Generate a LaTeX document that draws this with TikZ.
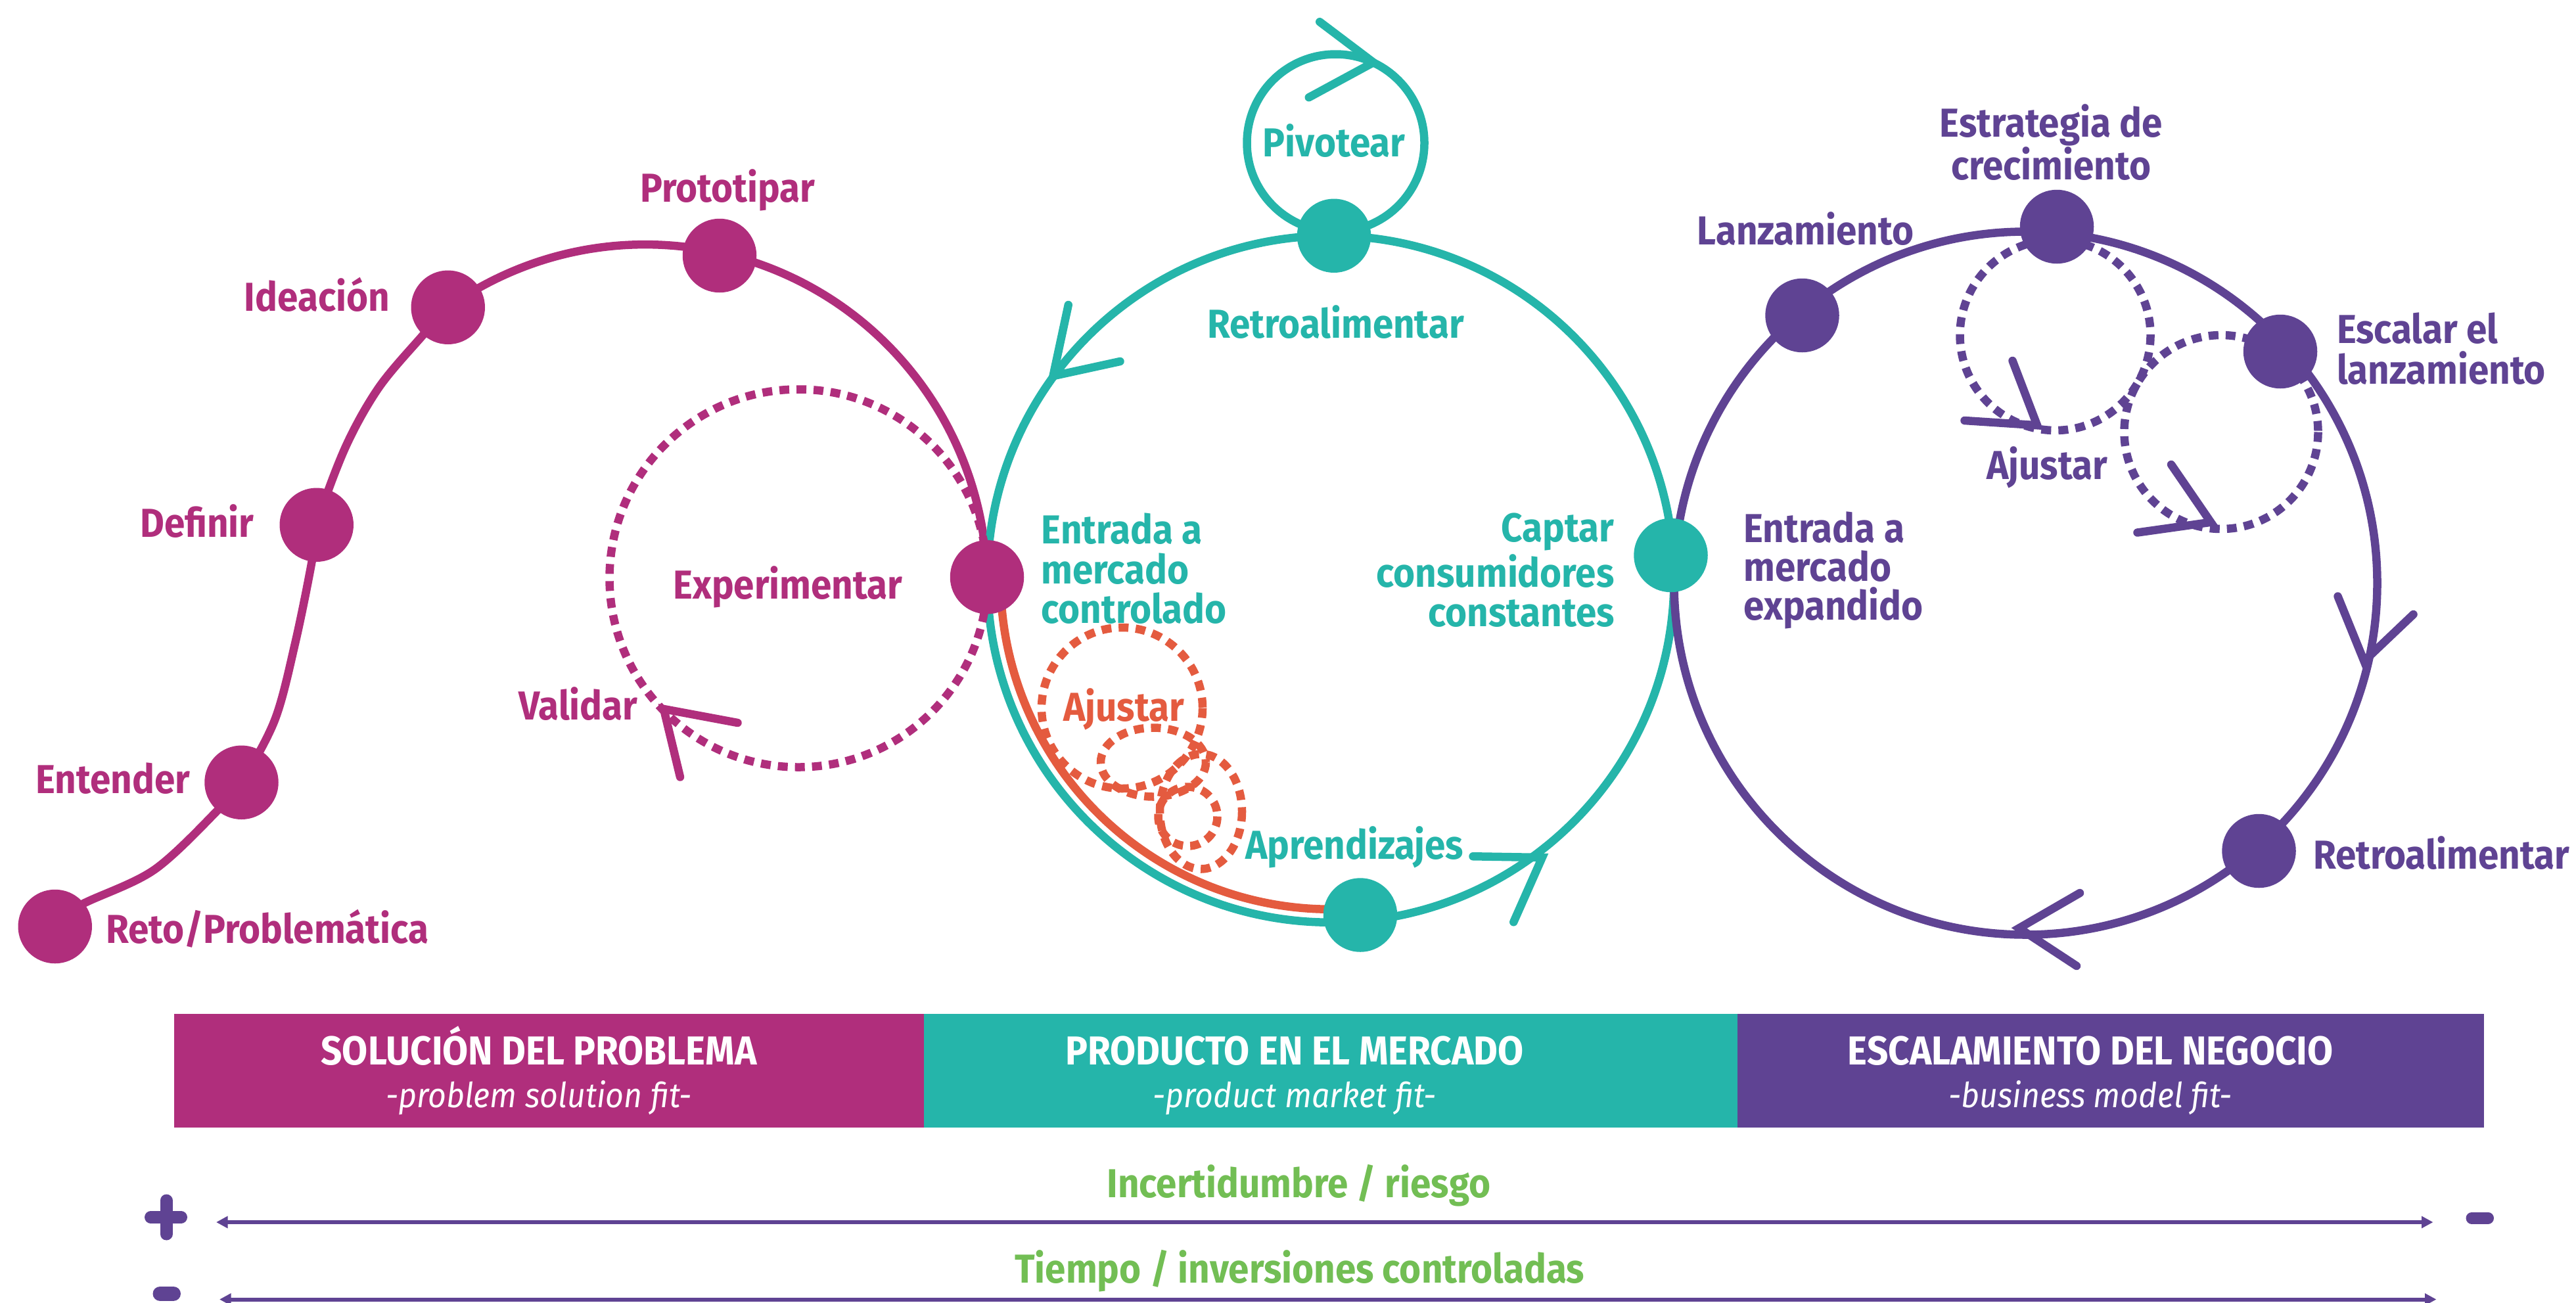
\documentclass[tikz,border=0pt]{standalone}
\usepackage{fontspec}
\newfontfamily\lblfont{Fira Sans}[FakeStretch=0.92]
\usetikzlibrary{arrows.meta,backgrounds}

\definecolor{cmag}{RGB}{176,46,124}
\definecolor{cteal}{RGB}{37,181,170}
\definecolor{cpurp}{RGB}{95,67,147}
\definecolor{corng}{RGB}{228,91,63}
\definecolor{cgreen}{RGB}{114,190,84}

\tikzset{
  dotm/.style={circle,fill=cmag,inner sep=0pt,minimum size=22.5pt},
  dott/.style={dotm,fill=cteal},
  dotp/.style={dotm,fill=cpurp},
  lbl/.style={font=\lblfont\bfseries\fontsize{12.3}{12.4}\selectfont,inner sep=0pt},
  lblm/.style={lbl,text=cmag},
  lblt/.style={lbl,text=cteal},
  lblp/.style={lbl,text=cpurp},
  ring/.style={line width=2.5pt},
  dashring/.style={line width=2.5pt,dash pattern=on 3pt off 2.2pt},
  chev/.style={line width=2.5pt,line cap=round,line join=miter},
  bartitle/.style={font=\lblfont\bfseries\fontsize{12.3}{14}\selectfont,text=white,inner sep=0pt},
  barsub/.style={font=\lblfont\itshape\fontsize{10.5}{12}\selectfont,text=white,inner sep=0pt},
  axisline/.style={draw=cpurp,line width=1.2pt,>={Triangle[length=3.5pt,width=3.5pt]},<->},
}

\begin{document}
\begin{tikzpicture}[x=0.5pt,y=0.5pt,yscale=-1]
\useasboundingbox (0,0) rectangle (1568,793);

%centres of the loops
\coordinate (tc) at (810,352.5);
\coordinate (pc) at (1233,355);
\coordinate (mc) at (486,352);
\coordinate (pv) at (813,87);

%Dots
\node[dotm] (reto) at (33.5,564) {};
\node[dotm] (entender) at (147,476.3) {};
\node[dotm] (definir) at (192.7,319.5) {};
\node[dotm] (ideacion) at (272.7,187.1) {};
\node[dotm] (prototipar) at (438,155.6) {};
\node[dotm] (entrada) at (600.8,351.3) {};
\node[dott] (pivot) at (812,143.5) {};
\node[dott] (captar) at (1017,338) {};
\node[dott] (aprend) at (828,557) {};
\node[dotp] (lanz) at (1097,192) {};
\node[dotp] (estrat) at (1252,138) {};
\node[dotp] (escalar) at (1388,214) {};
\node[dotp] (retrop) at (1375,518) {};

% Text Node
\node[lblm,anchor=base] (lprot) at (443,123) {Prototipar};
% Text Node
\node[lblm,anchor=base east] (lidea) at (237.5,189.5) {Ideación};
% Text Node
\node[lblm,anchor=base east] (ldef) at (155,327) {Definir};
% Text Node
\node[lblm,anchor=base east] (lent) at (116,483) {Entender};
% Text Node
\node[lblm,anchor=base west] (lreto) at (64,574) {Reto/Problemática};
% Text Node
\node[lblm,anchor=base] (lexp) at (479.5,364.6) {Experimentar};
% Text Node
\node[lblm,anchor=base] (lval) at (352,438) {Validar};

% Text Node
\node[lblt,anchor=base] (lpiv) at (812,95.3) {Pivotear};
% Text Node
\node[lblt,anchor=base] (lretro) at (813,205.6) {Retroalimentar};
% Text Node
\node[lblt,anchor=north west,align=left,font=\lblfont\bfseries\fontsize{12.3}{12.1}\selectfont] (lentc) at (633.5,312) {Entrada a\\mercado\\controlado};
% Text Node
\node[lblt,anchor=north east,align=right,font=\lblfont\bfseries\fontsize{12.3}{12.1}\selectfont] (lcap) at (983,312) {Captar\\consumidores\\constantes};
% Text Node
\node[lblt,anchor=base] (lapr) at (824.5,523) {Aprendizajes};
% Text Node
\node[lbl,text=corng,anchor=base] (lajo) at (684,439) {Ajustar};

% Text Node
\node[lblp,anchor=north,align=center,font=\lblfont\bfseries\fontsize{12.3}{13}\selectfont] (lestr) at (1248.5,63) {Estrategia de\\crecimiento};
% Text Node
\node[lblp,anchor=base] (llanz) at (1099,149) {Lanzamiento};
% Text Node
\node[lblp,anchor=north west,align=left] (lesc) at (1422,190) {Escalar el\\lanzamiento};
% Text Node
\node[lblp,anchor=base] (lajp) at (1246,291.8) {Ajustar};
% Text Node
\node[lblp,anchor=north west,align=left,font=\lblfont\bfseries\fontsize{12.3}{11.8}\selectfont] (lentp) at (1061,311) {Entrada a\\mercado\\expandido};
% Text Node
\node[lblp,anchor=base west] (lretp) at (1407.6,529) {Retroalimentar};

\begin{pgfonlayer}{background}
%Curve Lines
\draw[ring,cmag] plot[smooth,tension=0.55] coordinates {(reto.center) (49,551) (94,529.4) (134.7,491) (entender.center) (167.3,438.2) (179.6,391.8) (189.8,342) (definir.center) (210.2,272.4) (230.6,235.9) (257.1,204.4) (ideacion.center)};
\draw[ring,cmag] (ideacion.center) arc[start angle=234.7,end angle=358.4,radius=208];
%Shape: Circle
\draw[ring,cteal] (tc) circle[radius=209];
\draw[ring,corng] (tc) ++(178:201) arc[start angle=178,end angle=86,radius=201];
\draw[ring,cteal] (pv) circle[radius=54];
\draw[ring,cpurp] (pc) circle[radius=214];
%Dotted loops
\draw[dashring,cmag] (mc) circle[radius=115];
\draw[dashring,corng] (683,431) circle[radius=49];
\draw[dashring,corng] (702,464) ellipse[x radius=32,y radius=21];
\draw[dashring,corng] (723,497) circle[radius=18];
\draw[dashring,corng] (731,494) ellipse[x radius=25,y radius=35];
\draw[dashring,cpurp] (1251,204) circle[radius=58];
\draw[dashring,cpurp] (1352,263) circle[radius=59];
%Arrow heads
\draw[chev,cteal] (803.3,13.3) -- (836,38) -- (796.7,59.3);
\draw[chev,cteal] (650.3,185.6) -- (641,228.9) -- (681.8,220);
\draw[chev,cteal] (896.6,521.3) -- (938.7,522) -- (921.3,561.3);
\draw[chev,cmag] (449,440) -- (404,431.6) -- (414,473);
\draw[chev,cpurp] (1225,219.6) -- (1240,258.9) -- (1195.8,256);
\draw[chev,cpurp] (1321.6,282.8) -- (1345.7,317.9) -- (1301,324.2);
\draw[chev,cpurp] (1423,363) -- (1439,402.5) -- (1469,374);
\draw[chev,cpurp] (1266,543.6) -- (1229,565) -- (1264,588);
\end{pgfonlayer}

%Bars
\fill[cmag] (106,617) rectangle (562.5,686.5);
\fill[cteal] (562.5,617) rectangle (1057.5,686.5);
\fill[cpurp] (1057.5,617) rectangle (1512,686.5);
% Text Node
\node[bartitle,anchor=base] (t1) at (328,648) {SOLUCIÓN DEL PROBLEMA};
\node[barsub,anchor=base] (s1) at (328,674) {-problem solution fit-};
\node[bartitle,anchor=base] (t2) at (788,648) {PRODUCTO EN EL MERCADO};
\node[barsub,anchor=base] (s2) at (788,674) {-product market fit-};
\node[bartitle,anchor=base] (t3) at (1272.5,648) {ESCALAMIENTO DEL NEGOCIO};
\node[barsub,anchor=base] (s3) at (1272.5,674) {-business model fit-};

% Text Node
\node[lbl,text=cgreen,anchor=base] (lincert) at (790.5,729) {Incertidumbre / riesgo};
\node[lbl,text=cgreen,anchor=base] (ltiempo) at (791,781) {Tiempo / inversiones controladas};

%Axes
\coordinate (a1l) at (131.6,744);
\coordinate (a1r) at (1481,744);
\coordinate (a2l) at (133.6,791);
\coordinate (a2r) at (1483,791);
\draw[axisline] (a1l) -- (a1r);
\draw[axisline] (a2l) -- (a2r);
%plus and minus
\draw[cpurp,line width=3.75pt,line cap=round] (91.75,741) -- (110.25,741) (101.25,730.75) -- (101.25,751.25);
\draw[cpurp,line width=4.5pt,line cap=round] (97.5,787.5) -- (105.5,787.5);
\draw[cpurp,line width=3.5pt,line cap=round] (1504.5,741.5) -- (1514.5,741.5);

\end{tikzpicture}
\end{document}
